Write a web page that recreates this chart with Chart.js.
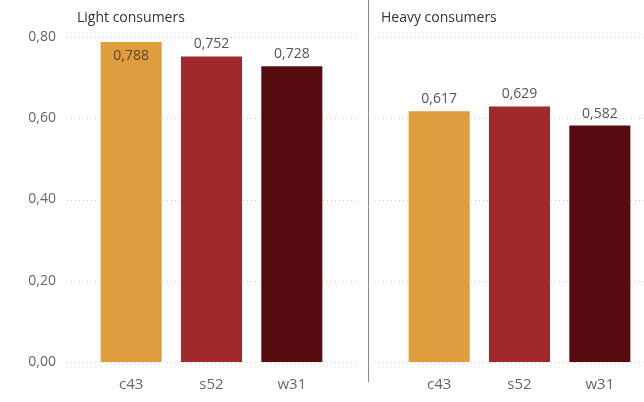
<!DOCTYPE html>
<html>
<head>
<meta charset="utf-8">
<script src="https://cdn.jsdelivr.net/npm/chart.js@4"></script>
<style>
  html, body { margin: 0; padding: 0; background: #fff; }
  #wrap { position: relative; width: 644px; height: 402px; }
  #left { position: absolute; left: 0; top: 0; }
  #right { position: absolute; left: 368px; top: 0; }
  #divider { position: absolute; left: 368px; top: 0; width: 1px; height: 382px; background: #8a8a8a; }
</style>
</head>
<body>
<div id="wrap">
  <canvas id="left" width="368" height="402"></canvas>
  <canvas id="right" width="276" height="402"></canvas>
  <div id="divider"></div>
</div>
<script>
const categories = ['c43', 's52', 'w31'];
const lightValues = [0.788, 0.752, 0.728];
const heavyValues = [0.617, 0.629, 0.582];
const yTicks = [0, 0.2, 0.4, 0.6, 0.8];
const barColors = ['#E09D3E', '#A0292D', '#550B0F'];

const FONT = '"Open Sans", "Noto Sans", sans-serif';
const comma = (v, d) => v.toFixed(d).replace('.', ',');

// dotted gridlines, panel title and value labels
const panelDecor = {
  id: 'panelDecor',
  beforeDatasetsDraw(chart, args, opts) {
    const ctx = chart.ctx;
    const y = chart.scales.y;
    ctx.save();
    ctx.strokeStyle = '#cfcfcf';
    ctx.lineWidth = 1;
    ctx.setLineDash([1, 3]);
    yTicks.forEach(v => {
      const py = Math.round(y.getPixelForValue(v)) + 0.5;
      ctx.beginPath();
      ctx.moveTo(opts.gridFrom, py);
      ctx.lineTo(opts.gridTo, py);
      ctx.stroke();
    });
    ctx.restore();
  },
  afterDatasetsDraw(chart, args, opts) {
    const ctx = chart.ctx;
    const area = chart.chartArea;
    const values = chart.data.datasets[0].data;
    ctx.save();
    ctx.font = '14px ' + FONT;
    ctx.fillStyle = '#333';
    ctx.textAlign = 'left';
    ctx.textBaseline = 'middle';
    ctx.fillText(opts.title, opts.titleX, 18);

    ctx.textAlign = 'center';
    chart.getDatasetMeta(0).data.forEach((bar, i) => {
      const text = comma(values[i], 3);
      if (bar.y - 18 < area.top) {
        ctx.fillStyle = '#5b4630';
        ctx.fillText(text, bar.x, bar.y + 14);
      } else {
        ctx.fillStyle = '#555';
        ctx.fillText(text, bar.x, bar.y - 12);
      }
    });
    ctx.restore();
  }
};

function makePanel(canvas, values, opts) {
  return new Chart(canvas, {
    type: 'bar',
    data: {
      labels: categories,
      datasets: [{
        data: values,
        backgroundColor: barColors,
        borderWidth: 0,
        categoryPercentage: 1,
        barPercentage: 0.76
      }]
    },
    options: {
      responsive: false,
      animation: false,
      layout: { padding: { top: 37, left: opts.padLeft, right: opts.padRight, bottom: 0 } },
      plugins: {
        legend: { display: false },
        tooltip: { enabled: false },
        panelDecor: opts.decor
      },
      scales: {
        x: {
          grid: { display: false },
          border: { display: false },
          ticks: { color: '#666', font: { family: FONT, size: 15 }, padding: 6 },
          afterFit(scale) {
            scale.height = 40;
            scale.paddingLeft = 0;
            scale.paddingRight = 0;
          }
        },
        y: {
          display: opts.showY,
          min: 0,
          max: 0.8,
          grid: { display: false },
          border: { display: false },
          afterBuildTicks(scale) { scale.ticks = yTicks.map(v => ({ value: v })); },
          ticks: {
            color: '#666',
            font: { family: FONT, size: 14 },
            padding: 27,
            callback: v => comma(v, 2)
          },
          afterFit(scale) {
            if (opts.showY) scale.width = 91;
            scale.paddingTop = 0;
            scale.paddingBottom = 0;
          }
        }
      }
    },
    plugins: [panelDecor]
  });
}

makePanel(document.getElementById('left'), lightValues, {
  showY: true, padLeft: 0, padRight: 36,
  decor: { title: 'Light consumers', titleX: 77, gridFrom: 67, gridTo: 357 }
});

makePanel(document.getElementById('right'), heavyValues, {
  showY: false, padLeft: 31, padRight: 4,
  decor: { title: 'Heavy consumers', titleX: 13, gridFrom: 7, gridTo: 276 }
});
</script>
</body>
</html>
